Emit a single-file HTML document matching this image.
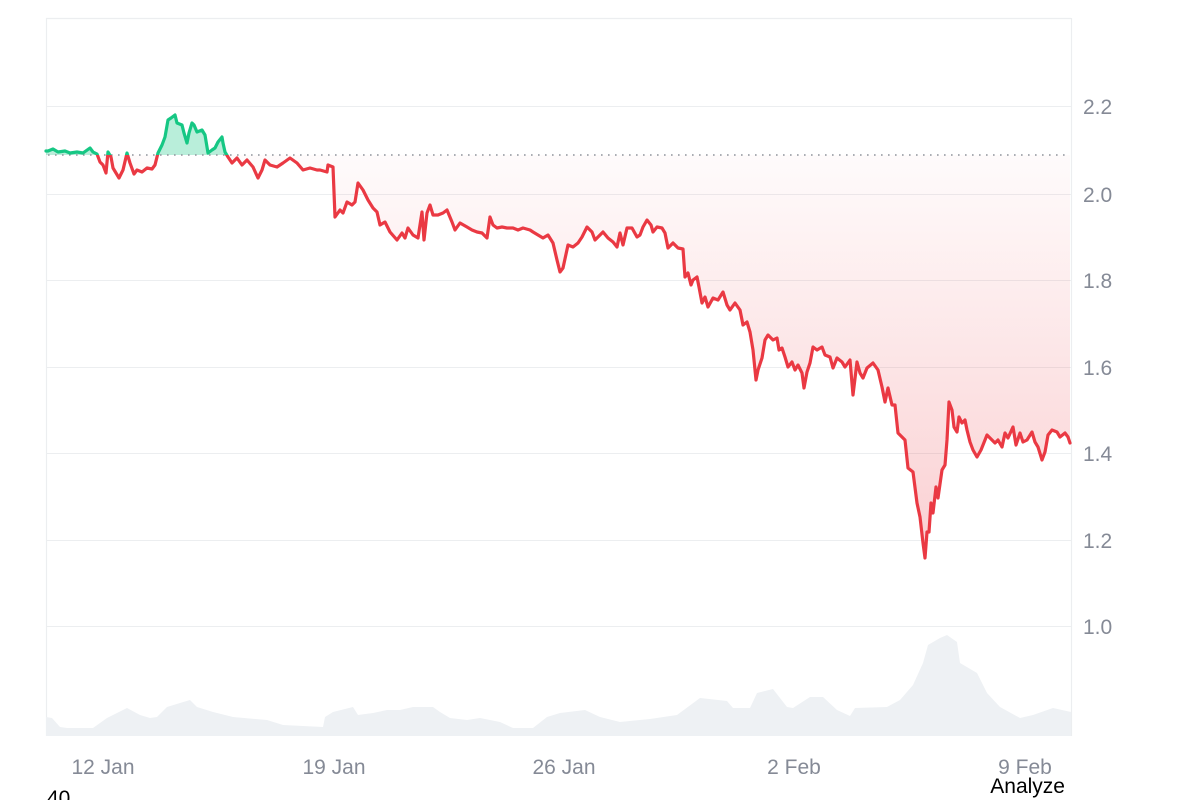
<!DOCTYPE html>
<html>
<head>
<meta charset="utf-8">
<style>
html,body{margin:0;padding:0;background:#fff;}
body{width:1200px;height:800px;overflow:hidden;position:relative;font-family:"Liberation Sans",Arial,sans-serif;}
svg{position:absolute;left:0;top:0;}
</style>
</head>
<body>
<svg width="1200" height="800" viewBox="0 0 1200 800" xmlns="http://www.w3.org/2000/svg">
<defs>
  <clipPath id="above"><rect x="0" y="0" width="1200" height="155"/></clipPath>
  <clipPath id="below"><rect x="0" y="155" width="1200" height="645"/></clipPath>
  <linearGradient id="redg" gradientUnits="userSpaceOnUse" x1="0" y1="155" x2="0" y2="560">
    <stop offset="0" stop-color="#ea3943" stop-opacity="0.02"/>
    <stop offset="1" stop-color="#ea3943" stop-opacity="0.24"/>
  </linearGradient>
</defs>

<!-- grid -->
<g stroke="#eceef0" stroke-width="1">
  <line x1="46" y1="106.5" x2="1071" y2="106.5"/>
  <line x1="46" y1="194.5" x2="1071" y2="194.5"/>
  <line x1="46" y1="280.5" x2="1071" y2="280.5"/>
  <line x1="46" y1="367.5" x2="1071" y2="367.5"/>
  <line x1="46" y1="453.5" x2="1071" y2="453.5"/>
  <line x1="46" y1="540.5" x2="1071" y2="540.5"/>
  <line x1="46" y1="626.5" x2="1071" y2="626.5"/>
</g>
<g stroke="#eceef0" stroke-width="1.2">
  <line x1="46" y1="18.5" x2="1071" y2="18.5"/>
  <line x1="46.5" y1="18" x2="46.5" y2="736"/>
  <line x1="1071.5" y1="18" x2="1071.5" y2="736"/>
</g>

<!-- volume -->
<path fill="#eef1f4" d="M46,736 L46,717 52,718 60,727 67,728 93,728 107,718 127,708 140,715 150,718 157,717 167,707 180,703 190,700 197,707 213,712 233,717 267,720 283,725 323,727 325,717 333,712 353,707 358,715 373,713 387,710 400,710 413,707 433,707 440,712 450,718 467,720 480,718 500,722 513,728 533,728 547,717 560,713 585,710 600,717 620,722 650,719 677,715 700,698 727,701 733,708 750,708 757,693 773,689 787,707 793,708 810,697 823,697 837,710 850,716 855,708 887,707 900,700 913,685 923,663 928,645 940,638 947,635 957,642 960,663 977,673 987,693 1000,707 1020,718 1033,715 1053,708 1071,712 L1071,736 Z"/>

<!-- price area -->
<path clip-path="url(#below)" fill="url(#redg)" d="M46,155 L46,151 48,151 53,149 58,152 65,151 70,153 77,152 83,153 90,148 93,152 97,154 100,162 103,165 106,173 108,152 111,157 113,168 119,178 123,170 127,153 130,163 134,174 137,170 142,172 147,168 152,169 155,165 158,153 162,145 165,137 168,120 171,118 175,115 177,123 182,125 184,133 187,143 189,133 192,123 194,125 197,132 202,130 205,135 207,147 208,153 212,150 215,148 218,142 222,137 223,143 225,152 228,157 232,163 237,158 242,165 247,160 253,167 258,178 262,170 265,160 270,165 277,167 283,163 290,158 297,163 303,170 310,168 317,170 320,170 327,172 328,165 333,167 335,217 340,210 343,213 347,202 352,205 355,202 358,183 363,190 368,200 373,208 377,212 380,225 385,222 390,232 397,240 402,233 405,238 408,228 413,235 418,238 422,212 424,240 427,213 430,205 433,215 438,215 443,213 447,210 452,222 455,230 460,223 467,227 472,230 477,232 482,233 487,238 490,217 493,225 497,228 502,227 507,228 513,228 518,230 523,228 530,230 533,232 538,235 543,238 548,235 553,243 557,260 560,272 563,268 568,245 573,247 578,243 582,237 587,227 592,232 595,240 600,235 603,232 608,238 613,242 617,247 620,233 623,245 627,228 632,228 637,237 640,235 643,227 647,220 651,225 653,232 657,227 662,228 665,233 668,248 673,243 678,248 683,249 685,277 688,273 691,285 693,280 697,277 699,287 702,303 705,297 708,307 713,298 718,300 723,292 727,305 730,310 735,303 740,310 743,325 747,322 750,332 753,350 756,380 758,370 762,358 765,340 768,335 773,340 777,338 779,350 782,348 785,357 788,367 792,362 795,370 798,365 802,373 804,388 807,372 810,363 813,347 817,350 822,347 825,355 830,357 833,368 837,358 842,362 845,367 850,360 853,395 857,362 860,373 863,378 867,368 873,363 878,370 882,387 885,402 888,388 892,405 895,405 898,433 902,437 905,440 908,468 913,472 917,503 920,517 923,543 925,558 927,532 929,532 931,503 933,513 936,487 938,498 942,470 945,465 947,440 949,402 952,410 954,427 957,432 959,417 962,423 965,420 967,430 970,442 973,450 977,457 981,450 983,445 987,435 992,440 995,443 998,440 1002,447 1005,433 1008,438 1013,427 1016,445 1020,433 1023,442 1027,440 1032,432 1035,442 1038,447 1042,460 1045,452 1048,435 1052,430 1057,432 1060,437 1065,433 1068,437 1070,443 L1070,155 Z"/>
<path clip-path="url(#above)" fill="#16c784" fill-opacity="0.3" d="M46,155 L46,151 48,151 53,149 58,152 65,151 70,153 77,152 83,153 90,148 93,152 97,154 100,162 103,165 106,173 108,152 111,157 113,168 119,178 123,170 127,153 130,163 134,174 137,170 142,172 147,168 152,169 155,165 158,153 162,145 165,137 168,120 171,118 175,115 177,123 182,125 184,133 187,143 189,133 192,123 194,125 197,132 202,130 205,135 207,147 208,153 212,150 215,148 218,142 222,137 223,143 225,152 228,157 232,163 L232,155 Z"/>

<!-- baseline -->
<line x1="48" y1="155" x2="1068" y2="155" stroke="#8f949c" stroke-width="1.6" stroke-dasharray="1.6 5.4"/>

<!-- price line -->
<g fill="none" stroke-width="3.2" stroke-linejoin="round" stroke-linecap="round">
<polyline clip-path="url(#below)" stroke="#ea3943" points="46,151 48,151 53,149 58,152 65,151 70,153 77,152 83,153 90,148 93,152 97,154 100,162 103,165 106,173 108,152 111,157 113,168 119,178 123,170 127,153 130,163 134,174 137,170 142,172 147,168 152,169 155,165 158,153 162,145 165,137 168,120 171,118 175,115 177,123 182,125 184,133 187,143 189,133 192,123 194,125 197,132 202,130 205,135 207,147 208,153 212,150 215,148 218,142 222,137 223,143 225,152 228,157 232,163 237,158 242,165 247,160 253,167 258,178 262,170 265,160 270,165 277,167 283,163 290,158 297,163 303,170 310,168 317,170 320,170 327,172 328,165 333,167 335,217 340,210 343,213 347,202 352,205 355,202 358,183 363,190 368,200 373,208 377,212 380,225 385,222 390,232 397,240 402,233 405,238 408,228 413,235 418,238 422,212 424,240 427,213 430,205 433,215 438,215 443,213 447,210 452,222 455,230 460,223 467,227 472,230 477,232 482,233 487,238 490,217 493,225 497,228 502,227 507,228 513,228 518,230 523,228 530,230 533,232 538,235 543,238 548,235 553,243 557,260 560,272 563,268 568,245 573,247 578,243 582,237 587,227 592,232 595,240 600,235 603,232 608,238 613,242 617,247 620,233 623,245 627,228 632,228 637,237 640,235 643,227 647,220 651,225 653,232 657,227 662,228 665,233 668,248 673,243 678,248 683,249 685,277 688,273 691,285 693,280 697,277 699,287 702,303 705,297 708,307 713,298 718,300 723,292 727,305 730,310 735,303 740,310 743,325 747,322 750,332 753,350 756,380 758,370 762,358 765,340 768,335 773,340 777,338 779,350 782,348 785,357 788,367 792,362 795,370 798,365 802,373 804,388 807,372 810,363 813,347 817,350 822,347 825,355 830,357 833,368 837,358 842,362 845,367 850,360 853,395 857,362 860,373 863,378 867,368 873,363 878,370 882,387 885,402 888,388 892,405 895,405 898,433 902,437 905,440 908,468 913,472 917,503 920,517 923,543 925,558 927,532 929,532 931,503 933,513 936,487 938,498 942,470 945,465 947,440 949,402 952,410 954,427 957,432 959,417 962,423 965,420 967,430 970,442 973,450 977,457 981,450 983,445 987,435 992,440 995,443 998,440 1002,447 1005,433 1008,438 1013,427 1016,445 1020,433 1023,442 1027,440 1032,432 1035,442 1038,447 1042,460 1045,452 1048,435 1052,430 1057,432 1060,437 1065,433 1068,437 1070,443"/>
<polyline clip-path="url(#above)" stroke="#16c784" points="46,151 48,151 53,149 58,152 65,151 70,153 77,152 83,153 90,148 93,152 97,154 100,162 103,165 106,173 108,152 111,157 113,168 119,178 123,170 127,153 130,163 134,174 137,170 142,172 147,168 152,169 155,165 158,153 162,145 165,137 168,120 171,118 175,115 177,123 182,125 184,133 187,143 189,133 192,123 194,125 197,132 202,130 205,135 207,147 208,153 212,150 215,148 218,142 222,137 223,143 225,152 228,157 232,163"/>
</g>

<!-- y labels -->
<g font-family="Liberation Sans, Arial, sans-serif" font-size="21" fill="#858a96">
  <text x="1083" y="114">2.2</text>
  <text x="1083" y="202">2.0</text>
  <text x="1083" y="288">1.8</text>
  <text x="1083" y="375">1.6</text>
  <text x="1083" y="461">1.4</text>
  <text x="1083" y="548">1.2</text>
  <text x="1083" y="634">1.0</text>
</g>

<!-- x labels -->
<g font-family="Liberation Sans, Arial, sans-serif" font-size="21" fill="#858a96" text-anchor="middle">
  <text x="103" y="774">12 Jan</text>
  <text x="334" y="774">19 Jan</text>
  <text x="564" y="774">26 Jan</text>
  <text x="794" y="774">2 Feb</text>
  <text x="1025" y="774">9 Feb</text>
</g>

<text x="47" y="805" font-family="Liberation Sans, Arial, sans-serif" font-size="21" fill="#000">40</text>
<text x="1065" y="793" text-anchor="end" font-family="Liberation Sans, Arial, sans-serif" font-size="21" fill="#000">Analyze</text>
</svg>
</body>
</html>
